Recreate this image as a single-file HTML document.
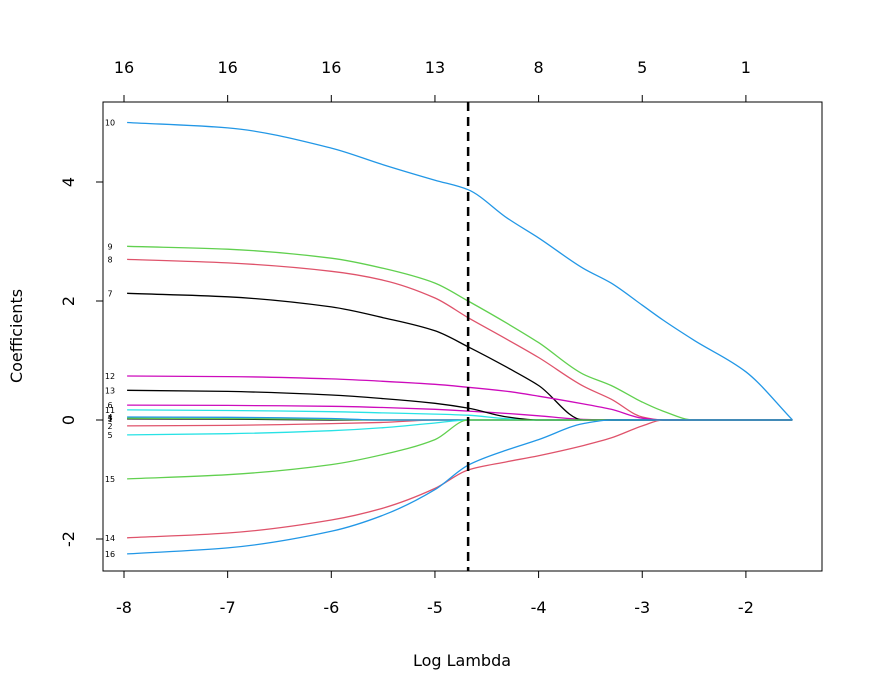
<!DOCTYPE html>
<html><head><meta charset="utf-8"><style>body{margin:0;background:#fff}svg{display:block;font-family:"DejaVu Sans","Liberation Sans",sans-serif}</style></head>
<body>
<svg id="chart" width="875" height="700"></svg>
<script>
const lambdaGrid = [-7.97,-7,-6,-5.5,-5,-4.68,-4.3,-4,-3.57,-3.3,-3,-2.8,-2.5,-2,-1.55];
const v1  = [0.02,0.015,0,0,0,0,0,0,0,0,0,0,0,0,0];
const v2  = [-0.1,-0.09,-0.06,-0.04,0,0,0,0,0,0,0,0,0,0,0];
const v3  = [0.03,0.025,0.01,0,0,0,0,0,0,0,0,0,0,0,0];
const v4  = [0.05,0.045,0.025,0,0,0,0,0,0,0,0,0,0,0,0];
const v5  = [-0.25,-0.23,-0.18,-0.13,-0.05,0,0,0,0,0,0,0,0,0,0];
const v6  = [0.25,0.245,0.23,0.21,0.18,0.15,0.11,0.07,0.01,0,0,0,0,0,0];
const v7  = [2.13,2.07,1.9,1.72,1.5,1.23,0.88,0.58,0,0,0,0,0,0,0];
const v8  = [2.70,2.64,2.50,2.35,2.05,1.72,1.35,1.05,0.57,0.35,0.05,0,0,0,0];
const v9  = [2.92,2.87,2.72,2.55,2.3,2.0,1.62,1.3,0.77,0.58,0.3,0.15,0,0,0];
const v10 = [5.0,4.91,4.57,4.29,4.03,3.87,3.39,3.06,2.55,2.30,1.93,1.68,1.34,0.81,0];
const v11 = [0.17,0.16,0.14,0.12,0.1,0.08,0.02,0,0,0,0,0,0,0,0];
const v12 = [0.74,0.73,0.69,0.65,0.6,0.55,0.48,0.40,0.27,0.18,0.03,0,0,0,0];
const v13 = [0.50,0.48,0.42,0.36,0.28,0.2,0.05,0,0,0,0,0,0,0,0];
const v14 = [-1.98,-1.9,-1.68,-1.48,-1.15,-0.84,-0.7,-0.6,-0.43,-0.3,-0.1,0,0,0,0];
const v15 = [-0.99,-0.92,-0.75,-0.58,-0.33,0,0,0,0,0,0,0,0,0,0];
const v16 = [-2.25,-2.15,-1.87,-1.6,-1.17,-0.76,-0.5,-0.33,-0.06,0,0,0,0,0,0];
const series = [v1,v2,v3,v4,v5,v6,v7,v8,v9,v10,v11,v12,v13,v14,v15,v16];
const xTicks = [-8,-7,-6,-5,-4,-3,-2];
const yTicks = [-2,0,2,4];
const topTicks = [-8,-7,-6,-5,-4,-3,-2];
const topLabels = ["16","16","16","13","8","5","1"];
const cvLambda = -4.68;

const palette = ["#000000","#DF536B","#61D04F","#2297E6","#28E2E5","#CD0BBC"];
const L=103,R=822,T=102,B=571;
const xs = v => 124 + (v+8)*103.65;
const ys = v => 420 - v*59.5;
const svg=document.getElementById('chart');
const NS="http://www.w3.org/2000/svg";
function mk(tag,attrs,parent){const e=document.createElementNS(NS,tag);for(const k in attrs)e.setAttribute(k,attrs[k]);(parent||svg).appendChild(e);return e;}

// monotone cubic path
function monoPath(X,Y){
  const n=X.length, d=[], m=[];
  for(let i=0;i<n-1;i++) d.push((Y[i+1]-Y[i])/(X[i+1]-X[i]));
  m[0]=d[0]; m[n-1]=d[n-2];
  for(let i=1;i<n-1;i++){
    if(d[i-1]*d[i]<=0) m[i]=0;
    else { const h0=X[i]-X[i-1], h1=X[i+1]-X[i]; const w1=2*h1+h0, w2=h1+2*h0; m[i]=(w1+w2)/(w1/d[i-1]+w2/d[i]); }
  }
  let p='M'+X[0].toFixed(1)+','+Y[0].toFixed(1);
  for(let i=0;i<n-1;i++){
    const h=(X[i+1]-X[i])/3;
    p+=' C'+(X[i]+h).toFixed(1)+','+(Y[i]+m[i]*h).toFixed(1)+' '+(X[i+1]-h).toFixed(1)+','+(Y[i+1]-m[i+1]*h).toFixed(1)+' '+X[i+1].toFixed(1)+','+Y[i+1].toFixed(1);
  }
  return p;
}

const lines=mk('g',{});


series.forEach((s,i)=>{
  const X=lambdaGrid.map(xs), Y=s.map(ys);
  const p=mk('path',{d:monoPath(X,Y),fill:'none',stroke:palette[i%6],'stroke-width':1.3},lines);
  
  
  const t=mk('text',{x:110,y:ys(s[0])+3,'font-size':8,'text-anchor':'middle',fill:'#000'});
  
  
  t.textContent=String(i+1);
});

const box=mk('rect',{x:L,y:T,width:R-L,height:B-T,fill:'none',stroke:'#000','stroke-width':1});



const cv=mk('line',{x1:xs(cvLambda),x2:xs(cvLambda),y1:T,y2:B,stroke:'#000','stroke-width':2.5,'stroke-dasharray':'9,6'});



xTicks.forEach(v=>{
  const x=xs(v);
  const tk=mk('line',{x1:x,x2:x,y1:B,y2:B+7,stroke:'#000'});
  
  
  const t=mk('text',{x:x,y:613,'font-size':16,'text-anchor':'middle'});
  
  
  t.textContent=String(v);
});
topTicks.forEach((v,i)=>{
  const x=xs(v);
  const tk=mk('line',{x1:x,x2:x,y1:T,y2:T-7,stroke:'#000'});
  
  
  const t=mk('text',{x:x,y:73,'font-size':16,'text-anchor':'middle'});
  
  
  t.textContent=topLabels[i];
});
yTicks.forEach(v=>{
  const y=ys(v);
  const tk=mk('line',{x1:L,x2:L-7,y1:y,y2:y,stroke:'#000'});
  
  
  const t=mk('text',{x:74,y:y,'font-size':16,'text-anchor':'middle',transform:`rotate(-90 74 ${y})`});
  
  
  t.textContent=String(v);
});
const xt=mk('text',{x:462,y:666,'font-size':16,'text-anchor':'middle'});


xt.textContent='Log Lambda';
const yt=mk('text',{x:22,y:336,'font-size':16,'text-anchor':'middle',transform:'rotate(-90 22 336)'});


yt.textContent='Coefficients';
</script>
</body></html>
